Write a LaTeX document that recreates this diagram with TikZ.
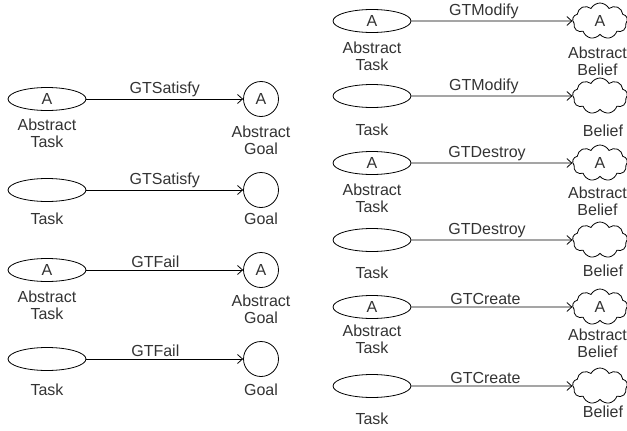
\documentclass[tikz,border=0pt]{standalone}
\usepackage{fontspec}
\setmainfont{Liberation Sans}
\usetikzlibrary{shapes.geometric,shapes.symbols,arrows.meta}
\definecolor{ink}{HTML}{333333}
\tikzset{
  txt/.style={text=ink, font=\fontsize{16}{17}\selectfont},
  task/.style={draw, ellipse, line width=0.8pt, minimum width=78pt, minimum height=23pt, inner sep=0pt, txt},
  goal/.style={draw, circle, line width=0.8pt, minimum size=35pt, inner sep=0pt, txt},
  belief/.style={draw, cloud, cloud puffs=9, cloud puff arc=125, aspect=1.55, line width=0.8pt,
                 minimum width=55pt, minimum height=36pt, inner sep=0pt, txt},
  lbl/.style={align=center, inner sep=0pt, txt},
  rel/.style={draw, line width=0.8pt, -{Straight Barb[length=5pt,width=9pt]}},
  rlbl/.style={above=2pt, inner sep=0pt, txt},
}
\begin{document}
\begin{tikzpicture}[x=1pt, y=-1pt]
\useasboundingbox (0,0) rectangle (627,431);

% ---------- left column: tasks and goals ----------
\node[task] (lt1) at (47,99) {A};
\node[goal] (lg1) at (261,99) {A};
\node[lbl] (lt1l) at (47,133) {Abstract\\Task};
\node[lbl] (lg1l) at (261,140) {Abstract\\Goal};
\path[rel] (lt1) -- node[rlbl] {GTSatisfy} (lg1);

\node[task] (lt2) at (47,190) {};
\node[goal] (lg2) at (261,190) {};
\node[lbl] (lt2l) at (47,219) {Task};
\node[lbl] (lg2l) at (261,219) {Goal};
\path[rel] (lt2) -- node[rlbl] {GTSatisfy} (lg2);

\node[task] (lt3) at (47,270) {A};
\node[goal] (lg3) at (261,270) {A};
\node[lbl] (lt3l) at (47,305) {Abstract\\Task};
\node[lbl] (lg3l) at (261,309) {Abstract\\Goal};
\path[rel] (lt3) -- node[rlbl, pos=0.44] {GTFail} (lg3);

\node[task] (lt4) at (47,359) {};
\node[goal] (lg4) at (261,359) {};
\node[lbl] (lt4l) at (47,390) {Task};
\node[lbl] (lg4l) at (261,390) {Goal};
\path[rel] (lt4) -- node[rlbl, pos=0.44] {GTFail} (lg4);

% ---------- right column: tasks and beliefs ----------
\node[task] (rt1) at (372,21) {A};
\node[belief] (rb1) at (600,21) {A};
\node[lbl] (rt1l) at (372,56) {Abstract\\Task};
\node[lbl] (rb1l) at (597.5,61) {Abstract\\Belief};
\path[rel] (rt1) -- node[rlbl, pos=0.45] {GTModify} (rb1);

\node[task] (rt2) at (372,96) {};
\node[belief] (rb2) at (600,96) {};
\node[lbl] (rt2l) at (372,130) {Task};
\node[lbl] (rb2l) at (603,131) {Belief};
\path[rel] (rt2) -- node[rlbl, pos=0.45] {GTModify} (rb2);

\node[task] (rt3) at (372,163) {A};
\node[belief] (rb3) at (600,163) {A};
\node[lbl] (rt3l) at (372,198) {Abstract\\Task};
\node[lbl] (rb3l) at (597.5,201) {Abstract\\Belief};
\path[rel] (rt3) -- node[rlbl, pos=0.47] {GTDestroy} (rb3);

\node[task] (rt4) at (372,240) {};
\node[belief] (rb4) at (600,240) {};
\node[lbl] (rt4l) at (372,273) {Task};
\node[lbl] (rb4l) at (603,271) {Belief};
\path[rel] (rt4) -- node[rlbl, pos=0.47] {GTDestroy} (rb4);

\node[task] (rt5) at (372,307) {A};
\node[belief] (rb5) at (600,307) {A};
\node[lbl] (rt5l) at (372,339) {Abstract\\Task};
\node[lbl] (rb5l) at (597.5,343) {Abstract\\Belief};
\path[rel] (rt5) -- node[rlbl, pos=0.46] {GTCreate} (rb5);

\node[task] (rt6) at (372,386) {};
\node[belief] (rb6) at (600,386) {};
\node[lbl] (rt6l) at (372,419) {Task};
\node[lbl] (rb6l) at (603,412) {Belief};
\path[rel] (rt6) -- node[rlbl, pos=0.46] {GTCreate} (rb6);
\end{tikzpicture}
\end{document}
